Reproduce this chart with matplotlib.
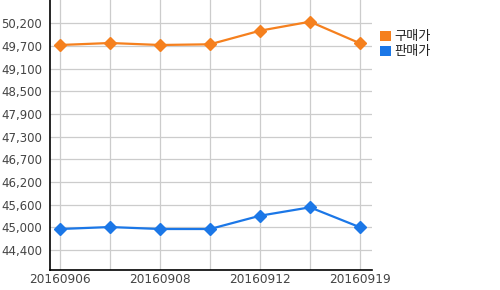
import matplotlib
matplotlib.use("Agg")
import matplotlib.pyplot as plt
from matplotlib.ticker import FixedLocator, FixedFormatter
from matplotlib.patches import Patch

dates = ["20160906", "20160907", "20160908", "20160909", "20160912", "20160913", "20160919"]
buy = [49665, 49716, 49665, 49683, 50031, 50261, 49708]
sell = [44957, 45008, 44957, 44957, 45297, 45512, 45001]
ytick_labels = ["44,400", "45,000", "45,600", "46,200", "46,700", "47,300",
                "47,900", "48,500", "49,100", "49,700", "50,200"]
series_names = ["구매가", "판매가"]

orange = "#F5801E"
blue = "#1B77E7"

plt.rcParams['font.family'] = ['DejaVu Sans']
fig = plt.figure(figsize=(5, 2.9), dpi=100)
ax = fig.add_axes([0.1, 20/290, 0.644, 270/290])

x = list(range(len(dates)))
ax.plot(x, buy, color=orange, lw=1.6, marker='D', ms=6.5, zorder=3)
ax.plot(x, sell, color=blue, lw=1.6, marker='D', ms=6.5, zorder=3)

y0, ystep = 44420, 580
yticks = [y0 + i * ystep for i in range(len(ytick_labels))]
ax.yaxis.set_major_locator(FixedLocator(yticks))
ax.yaxis.set_major_formatter(FixedFormatter(ytick_labels))
ax.set_ylim(y0 - 0.882 * ystep, y0 + 11.028 * ystep)

ax.set_xticks(x)
ax.set_xticklabels([d if i % 2 == 0 else "" for i, d in enumerate(dates)])
ax.set_xlim(-0.2, 6.24)

ax.grid(True, color="#cccccc", lw=0.9)
ax.set_axisbelow(True)
for s in ["top", "right"]:
    ax.spines[s].set_visible(False)
for s in ["left", "bottom"]:
    ax.spines[s].set_color("black")
    ax.spines[s].set_linewidth(1.2)
ax.tick_params(axis='y', length=0, pad=5.5, labelsize=8.5, labelcolor="#444444")
ax.tick_params(axis='x', length=0, pad=2, labelsize=8.7, labelcolor="#444444")

handles = [Patch(facecolor=orange, edgecolor='none'), Patch(facecolor=blue, edgecolor='none')]
leg = fig.legend(handles, series_names, loc='upper left', bbox_to_anchor=(0.747, 0.918),
                 frameon=False, prop={'family': ['Noto Sans CJK KR', 'DejaVu Sans'], 'size': 9.5},
                 handlelength=0.85, handleheight=0.85, handletextpad=0.25, labelspacing=0.15,
                 borderpad=0, labelcolor="#222222")

fig.savefig("out.png", dpi=100)
